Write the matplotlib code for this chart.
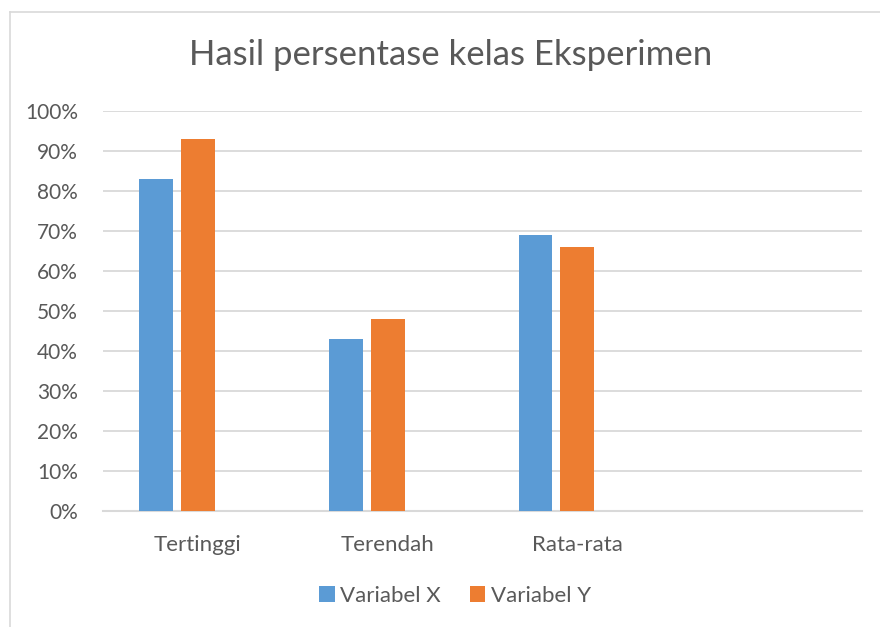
import matplotlib
matplotlib.use("Agg")
import matplotlib.pyplot as plt
import numpy as np
from matplotlib.lines import Line2D
from matplotlib.ticker import PercentFormatter

categories = ["Tertinggi", "Terendah", "Rata-rata"]
variabel_x = [0.83, 0.43, 0.69]
variabel_y = [0.93, 0.48, 0.66]
series_names = ["Variabel X", "Variabel Y"]

BLUE = "#5B9BD5"
ORANGE = "#ED7D31"
TEXT = "#595959"
GRID = "#D9D9D9"

plt.rcParams["font.family"] = ["Lato", "DejaVu Sans"]

fig = plt.figure(figsize=(8.8, 6.27), dpi=100)
ax = fig.add_axes([103 / 880, 1 - 511 / 627, (862 - 103) / 880, 400 / 627])

x = np.arange(len(categories))
width = 0.178
step = 0.221
ax.bar(x - step, variabel_x, width, color=BLUE, label=series_names[0], zorder=3)
ax.bar(x, variabel_y, width, color=ORANGE, label=series_names[1], zorder=3)

ax.set_xlim(-0.5, 3.5)
ax.set_ylim(0, 1)
ax.set_yticks(np.arange(0, 1.01, 0.1))
ax.yaxis.set_major_formatter(PercentFormatter(1.0, decimals=0))
ax.set_xticks(x)
ax.set_xticklabels(categories, fontsize=16)
ax.grid(axis="y", color=GRID, linewidth=1.3, zorder=0)
for side in ("top", "right", "left"):
    ax.spines[side].set_visible(False)
ax.spines["bottom"].set_color(GRID)
ax.spines["bottom"].set_linewidth(1.5)
ax.tick_params(axis="both", length=0, colors=TEXT)
ax.tick_params(axis="y", labelsize=15, pad=18)
ax.tick_params(axis="x", pad=17)

fig.text(0.512, 1 - 55 / 627, "Hasil persentase kelas Eksperimen",
         ha="center", va="center", fontsize=25, color=TEXT)

fig.legend(loc="center", bbox_to_anchor=(0.517, 1 - 596 / 627), ncol=2,
           frameon=False, fontsize=16, labelcolor=TEXT, handlelength=0.7,
           handleheight=0.7, handletextpad=0.25, columnspacing=1.3)

# chart area border (left and top edges visible)
fig.add_artist(Line2D([10 / 880, 10 / 880], [0, 1 - 12 / 627], color=GRID, linewidth=1.2))
fig.add_artist(Line2D([10 / 880, 1], [1 - 12 / 627, 1 - 12 / 627], color=GRID, linewidth=1.2))

fig.savefig("out.png", dpi=100, facecolor="white")
